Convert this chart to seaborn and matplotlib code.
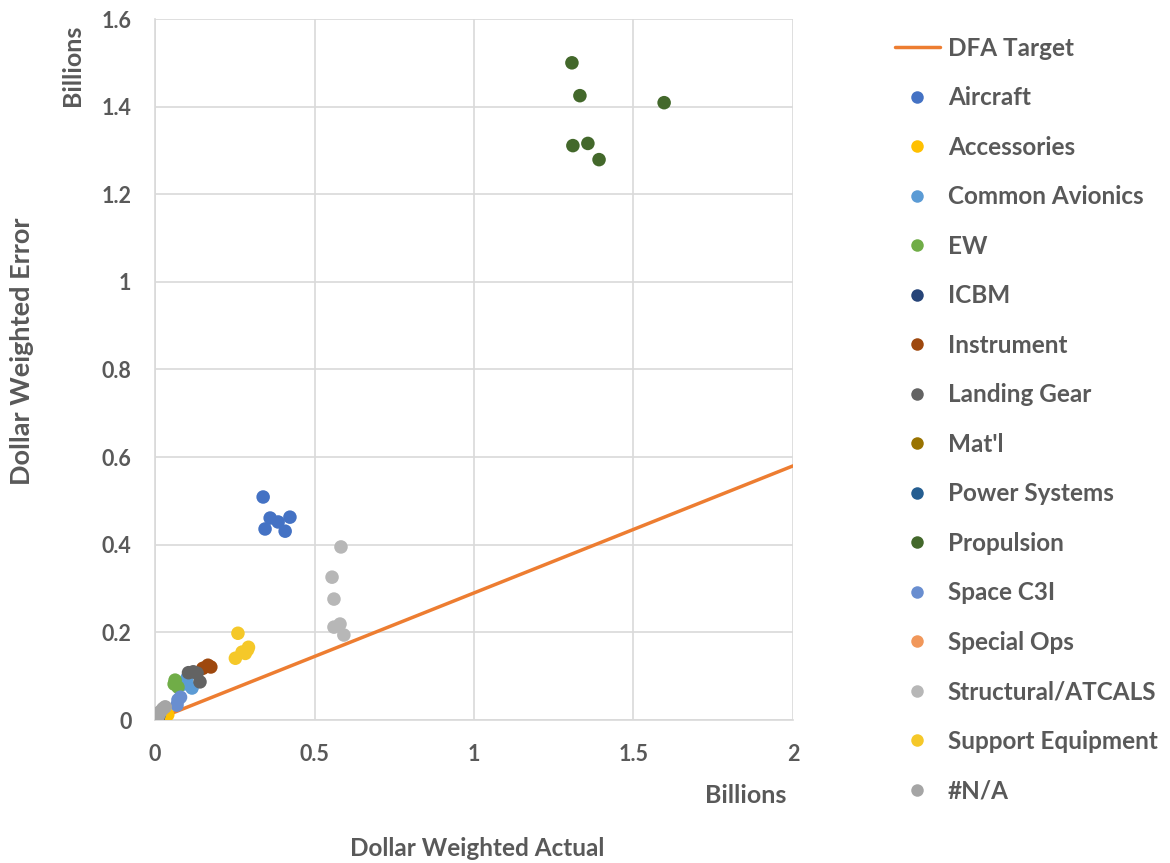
import matplotlib
matplotlib.use("Agg")
import matplotlib.pyplot as plt
from matplotlib.lines import Line2D
import seaborn as sns
import pandas as pd
import numpy as np

# Category of each product group, in legend order
categories = ["Aircraft", "Accessories", "Common Avionics", "EW", "ICBM",
              "Instrument", "Landing Gear", "Mat'l", "Power Systems",
              "Propulsion", "Space C3I", "Special Ops", "Structural/ATCALS",
              "Support Equipment", "#N/A"]

colors = ["#4472C4", "#FFC000", "#5B9BD5", "#70AD47", "#264478",
          "#9E480E", "#636363", "#997300", "#255E91", "#43682B",
          "#698ED0", "#F1975A", "#B7B7B7", "#F5C829", "#A5A5A5"]

# Dollar weighted actual (x) and error (y), billions
aircraft_x = [0.339, 0.361, 0.345, 0.386, 0.408, 0.423]
aircraft_y = [0.509, 0.461, 0.436, 0.452, 0.431, 0.463]

accessories_x = [0.030, 0.040]
accessories_y = [0.008, 0.012]

avionics_x = [0.100, 0.116, 0.090]
avionics_y = [0.095, 0.073, 0.082]

ew_x = [0.063, 0.072, 0.060]
ew_y = [0.091, 0.075, 0.082]

icbm_x = [0.004, 0.010]
icbm_y = [0.002, 0.006]

instrument_x = [0.150, 0.166, 0.175]
instrument_y = [0.118, 0.125, 0.121]

landing_x = [0.105, 0.120, 0.132, 0.141]
landing_y = [0.108, 0.110, 0.107, 0.087]

matl_x = [0.006]
matl_y = [0.003]

power_x = [0.012]
power_y = [0.010]

propulsion_x = [1.307, 1.332, 1.596, 1.310, 1.357, 1.392]
propulsion_y = [1.500, 1.425, 1.409, 1.311, 1.316, 1.279]

space_x = [0.072, 0.069, 0.080]
space_y = [0.046, 0.034, 0.052]

specialops_x = [0.008]
specialops_y = [0.004]

structural_x = [0.583, 0.555, 0.561, 0.561, 0.580, 0.592]
structural_y = [0.395, 0.326, 0.276, 0.212, 0.219, 0.194]

support_x = [0.260, 0.290, 0.273, 0.252, 0.293, 0.283]
support_y = [0.198, 0.160, 0.155, 0.141, 0.166, 0.152]

na_x = [0.005, 0.012, 0.018, 0.025, 0.032, 0.008]
na_y = [0.004, 0.012, 0.020, 0.026, 0.030, 0.015]

# DFA target line endpoints
target_x = [0.0, 2.0]
target_y = [0.0, 0.58]

series_x = [aircraft_x, accessories_x, avionics_x, ew_x, icbm_x, instrument_x,
            landing_x, matl_x, power_x, propulsion_x, space_x, specialops_x,
            structural_x, support_x, na_x]
series_y = [aircraft_y, accessories_y, avionics_y, ew_y, icbm_y, instrument_y,
            landing_y, matl_y, power_y, propulsion_y, space_y, specialops_y,
            structural_y, support_y, na_y]

rows = []
for cat, xs, ys in zip(categories, series_x, series_y):
    for xv, yv in zip(xs, ys):
        rows.append({"actual": xv, "error": yv, "group": cat})
df = pd.DataFrame(rows)
target_df = pd.DataFrame({"actual": target_x, "error": target_y})

sns.set_theme(style="white")
plt.rcParams["font.family"] = ["Lato", "DejaVu Sans"]
text_color = "#595959"
grid_color = "#D9D9D9"

fig = plt.figure(figsize=(11.7, 8.63), dpi=100)
ax = fig.add_axes([155 / 1170, 1 - 720 / 863, (793 - 155) / 1170, (720 - 19) / 863])

sns.lineplot(data=target_df, x="actual", y="error", ax=ax, color="#ED7D31",
             linewidth=2.5, zorder=2, legend=False)
sns.scatterplot(data=df, x="actual", y="error", hue="group",
                hue_order=categories, palette=dict(zip(categories, colors)),
                s=95, edgecolor="none", ax=ax, zorder=3, legend=False)

ax.set_xlim(0, 2)
ax.set_ylim(0, 1.6)
ax.set_xticks([0, 0.5, 1, 1.5, 2])
ax.set_xticklabels(["0", "0.5", "1", "1.5", "2"])
ax.set_yticks(np.arange(0, 1.61, 0.2))
ax.set_yticklabels(["0", "0.2", "0.4", "0.6", "0.8", "1", "1.2", "1.4", "1.6"])
ax.grid(True, color=grid_color, linewidth=1.2)
ax.set_axisbelow(True)
for side in ["top", "right"]:
    ax.spines[side].set_visible(False)
for side in ["left", "bottom"]:
    ax.spines[side].set_color(grid_color)
    ax.spines[side].set_linewidth(1.2)
ax.tick_params(axis="both", length=0, labelsize=15.5, labelcolor=text_color)
ax.tick_params(axis="x", pad=17)
ax.tick_params(axis="y", pad=17)
for lab in ax.get_xticklabels() + ax.get_yticklabels():
    lab.set_fontweight("bold")
ax.set_xlabel("")
ax.set_ylabel("")

fig.text(73 / 1170, 1 - 65 / 863, "Billions", rotation=90, ha="center", va="center",
         fontsize=18, fontweight="bold", color=text_color)
fig.text(746 / 1170, 1 - 795 / 863, "Billions", ha="center", va="center",
         fontsize=18, fontweight="bold", color=text_color)
fig.text(22 / 1170, 1 - 351 / 863, "Dollar Weighted Error", rotation=90,
         ha="center", va="center", fontsize=19.5, fontweight="bold", color=text_color)
fig.text(477 / 1170, 1 - 848 / 863, "Dollar Weighted Actual", ha="center",
         va="center", fontsize=17.5, fontweight="bold", color=text_color)

handles = [Line2D([0], [0], color="#ED7D31", linewidth=2.5)]
handles += [Line2D([0], [0], marker="o", linestyle="none", markersize=9,
                   markerfacecolor=c, markeredgecolor="none") for c in colors]
labels = ["DFA Target"] + categories
leg = fig.legend(handles, labels, loc="upper left",
                 bbox_to_anchor=(873 / 1170, 1 - 15 / 863), frameon=False,
                 labelspacing=1.09, handlelength=1.85,
                 handletextpad=0.33,
                 prop={"weight": "bold", "size": 17.5})
for t in leg.get_texts():
    t.set_color(text_color)

fig.savefig("out.png", dpi=100)
